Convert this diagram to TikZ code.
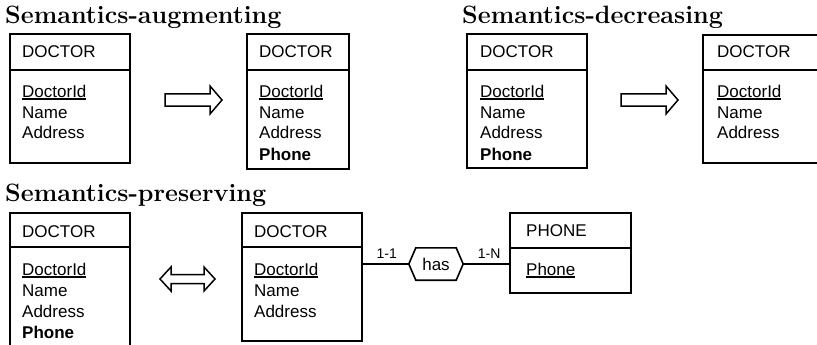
\documentclass[tikz,border=0pt]{standalone}
\usepackage{fontspec}
\newfontfamily\sansf{Liberation Sans}
\usetikzlibrary{calc}
\newcommand\keyattr[1]{\setbox0\hbox{#1}\rlap{\rule[-2.5pt]{\wd0}{1.2pt}}\box0}
\tikzset{
  entity/.style={draw, line width=1.6pt, rectangle, inner sep=0pt, anchor=north west},
  divider/.style={line width=1.6pt},
  txt/.style={anchor=base west, inner sep=0pt, font=\sansf\fontsize{17}{20}\selectfont},
  card/.style={anchor=base, inner sep=0pt, font=\sansf\fontsize{14}{16}\selectfont},
  title/.style={anchor=base west, inner sep=0pt, font=\bfseries\fontsize{25.1}{30}\selectfont},
  fatarrow/.style={draw, line width=1.5pt, line join=miter},
  link/.style={line width=1.6pt},
}
\begin{document}
\begin{tikzpicture}[x=1pt,y=1pt]
\useasboundingbox (0,0) rectangle (817,-345);
\clip (0,0) rectangle (817,-345);
% titles
\node[title] (t1) at (5,-24) {Semantics-augmenting};
\node[title] (t2) at (462,-24) {Semantics-decreasing};
\node[title] (t3) at (5,-201) {Semantics-preserving};
% box 1
\node[entity, minimum width=120pt, minimum height=129pt] (b1) at (9,-33) {};
\draw[divider] ($(b1.north west)+(0,-37)$) -- ($(b1.north east)+(0,-37)$);
\node[txt] (b1h) at (22,-58) {DOCTOR};
\node[txt] (b1a) at (22,-97) {\keyattr{DoctorId}};
\node[txt] (b1b) at (22,-118) {Name};
\node[txt] (b1c) at (22,-139) {Address};
% box 2
\node[entity, minimum width=102pt, minimum height=135pt] (b2) at (246,-33) {};
\draw[divider] ($(b2.north west)+(0,-37)$) -- ($(b2.north east)+(0,-37)$);
\node[txt] (b2h) at (259,-58) {DOCTOR};
\node[txt] (b2a) at (259,-97) {\keyattr{DoctorId}};
\node[txt] (b2b) at (259,-118) {Name};
\node[txt] (b2c) at (259,-139) {Address};
\node[txt] (b2d) at (259,-160) {\bfseries Phone};
% box 3
\node[entity, minimum width=120pt, minimum height=134pt] (b3) at (466,-33) {};
\draw[divider] ($(b3.north west)+(0,-37)$) -- ($(b3.north east)+(0,-37)$);
\node[txt] (b3h) at (480,-58) {DOCTOR};
\node[txt] (b3a) at (480,-97) {\keyattr{DoctorId}};
\node[txt] (b3b) at (480,-118) {Name};
\node[txt] (b3c) at (480,-139) {Address};
\node[txt] (b3d) at (480,-160) {\bfseries Phone};
% box 4
\node[entity, minimum width=140pt, minimum height=128pt] (b4) at (702,-34) {};
\draw[divider] ($(b4.north west)+(0,-36)$) -- ($(b4.north east)+(0,-36)$);
\node[txt] (b4h) at (717,-58) {DOCTOR};
\node[txt] (b4a) at (717,-97) {\keyattr{DoctorId}};
\node[txt] (b4b) at (717,-118) {Name};
\node[txt] (b4c) at (717,-139) {Address};
% box 5
\node[entity, minimum width=120pt, minimum height=150pt] (b5) at (9,-212) {};
\draw[divider] ($(b5.north west)+(0,-35)$) -- ($(b5.north east)+(0,-35)$);
\node[txt] (b5h) at (22,-237) {DOCTOR};
\node[txt] (b5a) at (22,-275) {\keyattr{DoctorId}};
\node[txt] (b5b) at (22,-296) {Name};
\node[txt] (b5c) at (22,-317) {Address};
\node[txt] (b5d) at (22,-338) {\bfseries Phone};
% box 6
\node[entity, minimum width=120pt, minimum height=128pt] (b6) at (241,-212) {};
\draw[divider] ($(b6.north west)+(0,-35)$) -- ($(b6.north east)+(0,-35)$);
\node[txt] (b6h) at (254,-237) {DOCTOR};
\node[txt] (b6a) at (254,-275) {\keyattr{DoctorId}};
\node[txt] (b6b) at (254,-296) {Name};
\node[txt] (b6c) at (254,-317) {Address};
% phone box
\node[entity, minimum width=121pt, minimum height=80pt] (ph) at (509,-212) {};
\draw[divider] ($(ph.north west)+(0,-36)$) -- ($(ph.north east)+(0,-36)$);
\node[txt] (phh) at (526,-236) {PHONE};
\node[txt] (pha) at (526,-275) {\keyattr{Phone}};
% relationship
\node[inner sep=0pt, minimum width=54pt, minimum height=32pt, font=\sansf\fontsize{17}{20}\selectfont] (has) at (436,-264) {has};
\draw[link, line join=miter] (has.west) -- ($(has.north west)+(7,0)$) -- ($(has.north east)+(-7,0)$) -- (has.east) -- ($(has.south east)+(-7,0)$) -- ($(has.south west)+(7,0)$) -- cycle;
\draw[link] (b6.east |- has.west) -- (has.west) node[card, midway, yshift=6pt, xshift=1pt] (c11) {1-1};
\draw[link] (has.east) -- (ph.west |- has.east) node[card, midway, yshift=6pt, xshift=3pt] (c1n) {1-N};
% transformation arrows
\draw[fatarrow] (165,-94) -- (210,-94) -- (210,-86) -- (222,-100) -- (210,-114) -- (210,-106) -- (165,-106) -- cycle;
\draw[fatarrow] (621,-94) -- (666,-94) -- (666,-86) -- (678,-100) -- (666,-114) -- (666,-106) -- (621,-106) -- cycle;
\draw[fatarrow] (160,-279) -- (171,-267) -- (171,-274.5) -- (204,-274.5) -- (204,-267) -- (215,-279) -- (204,-291) -- (204,-283.5) -- (171,-283.5) -- (171,-291) -- cycle;
\end{tikzpicture}
\end{document}
